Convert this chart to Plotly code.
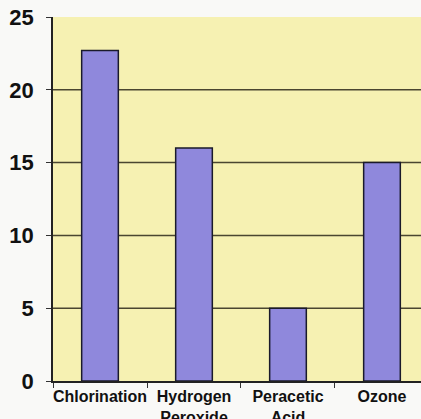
import plotly.graph_objects as go

categories = ["Chlorination", "Hydrogen<br>Peroxide", "Peracetic<br>Acid", "Ozone"]
values = [22.7, 16.0, 5.0, 15.0]
y_ticks = [0, 5, 10, 15, 20, 25]
grid_vals = [5, 10, 15, 20]

fig = go.Figure()
fig.add_trace(go.Bar(
    x=categories, y=values, width=0.39,
    marker=dict(color="#8f88dc", line=dict(color="#1a1a2a", width=1.5)),
))

for v in grid_vals:
    fig.add_shape(type="line", xref="paper", yref="y", x0=0, x1=1, y0=v, y1=v,
                  line=dict(color="#4a4630", width=1.5), layer="below")

fig.update_layout(
    width=421, height=419,
    margin=dict(l=53, r=0, t=17, b=38, autoexpand=False),
    paper_bgcolor="#f9f9f7",
    plot_bgcolor="#f6f1b2",
    showlegend=False,
    font=dict(family="Liberation Sans, Arial, sans-serif", color="#111111"),
)
fig.update_xaxes(
    range=[-0.5, 3.415],
    showline=True, linecolor="#222222", linewidth=1.5,
    ticks="outside", tickson="boundaries", ticklen=5, tickcolor="#333333",
    tickangle=0, automargin=False,
    tickfont=dict(size=16, family="Liberation Sans, Arial, sans-serif", weight="bold"),
    showgrid=False,
)
fig.update_yaxes(
    range=[0, 25], tickvals=y_ticks,
    showline=True, linecolor="#222222", linewidth=1.5,
    ticks="outside", ticklen=5, tickcolor="#333333",
    ticklabelstandoff=8, automargin=False,
    tickfont=dict(size=22, family="Liberation Sans, Arial, sans-serif", weight="bold"),
    showgrid=False, zeroline=False,
)

fig.write_html(
    "out.html",
    config={"displayModeBar": False},
    post_script="document.body.style.margin='0';document.body.style.overflow='hidden';",
)
